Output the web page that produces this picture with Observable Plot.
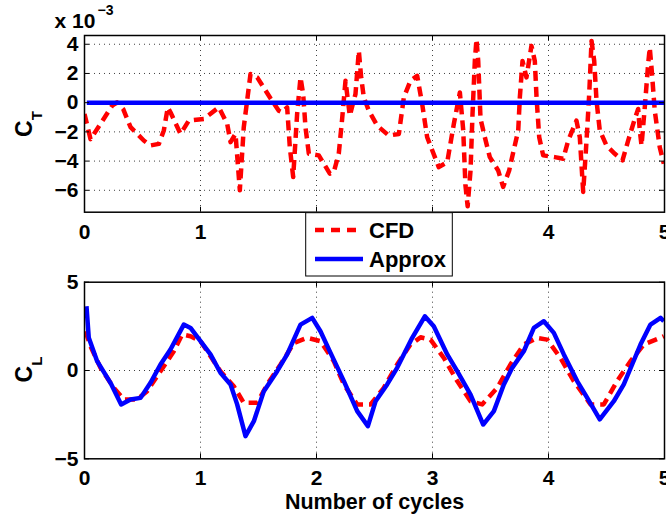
<!DOCTYPE html>
<html><head><meta charset="utf-8">
<script src="https://cdn.jsdelivr.net/npm/d3@7"></script>
<script src="https://cdn.jsdelivr.net/npm/@observablehq/plot@0.6"></script>
<style>
body{margin:0;background:#fff;}
#wrap{position:relative;width:666px;height:519px;overflow:hidden;background:#fff;}
#wrap svg{position:absolute;left:0;}
</style></head><body><div id="wrap"></div>
<script>
// ---- data ----
const xTicks = [0, 1, 2, 3, 4, 5];
const ctYTicks = [-6, -4, -2, 0, 2, 4];
const clYTicks = [-5, 0, 5];
const seriesNames = ["CFD", "Approx"];

// Thrust coefficient (x 10^-3), CFD
const ctCfdT = [0,0.052,0.138,0.239,0.28,0.333,0.397,0.511,0.569,0.641,0.684,0.718,0.741,0.828,0.899,1.029,1.158,1.23,1.259,1.302,1.339,1.373,1.431,1.489,1.603,1.675,1.704,1.747,1.77,1.799,1.833,1.862,1.885,1.905,1.934,2.02,2.115,2.149,2.192,2.221,2.25,2.287,2.336,2.365,2.385,2.408,2.451,2.523,2.623,2.71,2.753,2.81,2.868,2.911,2.954,3.054,3.127,3.184,3.236,3.265,3.284,3.303,3.328,3.345,3.365,3.379,3.394,3.414,3.451,3.494,3.566,3.609,3.661,3.696,3.739,3.753,3.776,3.81,3.853,3.882,3.897,3.92,3.954,4.054,4.127,4.17,4.241,4.27,4.299,4.328,4.351,4.371,4.394,4.414,4.442,4.5,4.572,4.638,4.687,4.744,4.773,4.787,4.802,4.83,4.859,4.873,4.888,4.916,4.959,4.994];
const ctCfd = [-0.77,-2.5,-1.45,-0.2,0.02,-0.43,-1.68,-2.59,-2.93,-2.82,-1.9,-0.32,-0.66,-2.14,-1.23,-1.11,-0.32,-1.45,-2.7,-2.14,-6.0,-1.68,1.96,1.73,0.3,-0.55,-0.66,-0.32,-3.05,-5.09,-0.77,1.73,0.59,-1.68,-3.5,-3.61,-4.86,-4.75,-3.5,-1.11,1.5,-0.89,0.59,3.55,1.73,0.36,-0.55,-1.57,-2.25,-2.14,0.36,1.5,1.84,-0.09,-2.37,-4.41,-4.07,-1.45,0.7,-1.9,-5.66,-7.1,-4.64,-0.77,2.86,4.34,2.86,-1.11,-2.36,-3.73,-4.64,-5.77,-4.64,-3.39,-1.9,0.36,2.86,1.73,3.89,2.86,0.36,-2.37,-3.61,-3.73,-3.84,-2.59,-1.23,-2.37,-6.11,-2.59,0.59,4.23,2.86,0.14,-1.9,-2.93,-3.5,-3.95,-2.59,-1.11,-0.43,-1.9,-2.93,-0.32,2.64,3.77,2.4,-0.55,-3.05,-4.18];
// Thrust coefficient, Approx
const ctApproxT = [0.02, 5];
const ctApprox = [0, 0];

// Lift coefficient, CFD
const clCfdT = [0.009,0.05,0.138,0.253,0.339,0.454,0.54,0.655,0.77,0.842,0.914,1.0,1.172,1.287,1.373,1.489,1.575,1.69,1.805,1.92,2.034,2.149,2.236,2.351,2.466,2.58,2.695,2.81,2.897,2.983,3.098,3.213,3.328,3.428,3.558,3.672,3.787,3.902,3.989,4.103,4.218,4.362,4.477,4.592,4.707,4.822,4.994];
const clCfd = [2.22,1.4,0.15,-0.98,-1.64,-1.64,-1.17,-0.04,1.09,2.04,1.94,1.66,-0.04,-0.89,-1.83,-1.83,-0.79,0.34,1.56,1.85,1.66,0.53,-0.79,-1.92,-1.92,-0.98,0.34,1.47,1.88,1.75,0.71,-0.6,-1.74,-1.92,-0.98,0.34,1.47,1.85,1.75,0.71,-0.6,-1.92,-1.92,-0.6,0.53,1.47,1.94];
// Lift coefficient, Approx
const clApproxT = [0.017,0.037,0.109,0.224,0.316,0.397,0.483,0.569,0.655,0.741,0.856,0.914,1.0,1.086,1.172,1.259,1.316,1.388,1.46,1.546,1.661,1.747,1.862,1.963,2.034,2.121,2.236,2.351,2.443,2.509,2.609,2.695,2.825,2.934,3.011,3.127,3.213,3.328,3.437,3.529,3.615,3.687,3.787,3.874,3.96,4.046,4.132,4.247,4.334,4.442,4.563,4.649,4.721,4.793,4.879,4.966,4.994];
const clApprox = [3.64,1.85,0.53,-0.7,-1.92,-1.64,-1.55,-0.7,0.34,1.19,2.6,2.41,1.66,0.91,-0.13,-0.79,-1.92,-3.72,-2.87,-1.17,-0.04,0.91,2.6,2.98,2.22,1.0,-0.6,-2.3,-3.15,-1.74,-0.79,0.15,1.85,3.07,2.51,0.91,-0.04,-1.36,-3.06,-2.3,-0.79,0.15,1.09,2.41,2.79,2.13,0.91,-0.6,-1.55,-2.77,-1.74,-0.79,0.34,1.47,2.6,2.98,2.79];

const RED = "#ff0000", BLUE = "#0000ff";
const FONT = "'Liberation Sans', Arial, Helvetica, sans-serif";
const zip = (t, v) => t.map((x, i) => ({t: x, v: v[i]}));

function panel({W, H, mt, mb, ml, mr, yDomain, yTicks, yGrid, xPad, series}) {
  const pw = W - ml - mr, ph = H - mt - mb;
  const grid = {stroke: "#000", strokeOpacity: 0.75, strokeDasharray: "1,4", strokeWidth: 1};
  return Plot.plot({
    width: W, height: H, marginTop: mt, marginBottom: mb, marginLeft: ml, marginRight: mr,
    style: {fontFamily: FONT, fontSize: "21px", fontWeight: "bold", background: "transparent", overflow: "visible", color: "#000"},
    x: {domain: [0, 5]},
    y: {domain: yDomain},
    marks: [
      Plot.gridX([1, 2, 3, 4], grid),
      Plot.gridY(yGrid, grid),
      ...series.map(s => Plot.line(s.data, {x: "t", y: "v", stroke: s.color, strokeWidth: 4.5,
        strokeDasharray: s.dash, strokeLinecap: "butt", strokeLinejoin: "round", clip: true})),
      Plot.tickX(xTicks, {x: d => d, insetTop: ph - 5, stroke: "#000", strokeWidth: 1}),
      Plot.tickX(xTicks, {x: d => d, insetBottom: ph - 5, stroke: "#000", strokeWidth: 1}),
      Plot.tickY(yTicks, {y: d => d, insetRight: pw - 5, stroke: "#000", strokeWidth: 1}),
      Plot.tickY(yTicks, {y: d => d, insetLeft: pw - 5, stroke: "#000", strokeWidth: 1}),
      Plot.frame({stroke: "#000", strokeWidth: 1.5}),
      Plot.axisX({ticks: xTicks, tickSize: 0, tickPadding: xPad, label: null, tickFormat: d => String(d)}),
      Plot.axisY({ticks: yTicks, tickSize: 0, tickPadding: 6, label: null})
    ]
  });
}

const wrap = document.getElementById("wrap");

const topSvg = panel({W: 666, H: 250, mt: 35, mb: 38.3, ml: 84, mr: 2,
  yDomain: [-7.5, 4.6], yTicks: ctYTicks, yGrid: ctYTicks, xPad: 12,
  series: [
    {data: zip(ctCfdT, ctCfd), color: RED, dash: "10,6"},
    {data: zip(ctApproxT, ctApprox), color: BLUE, dash: null}
  ]});
topSvg.style.top = "0px";
wrap.appendChild(topSvg);

const botSvg = panel({W: 666, H: 269, mt: 31.7, mb: 60.7, ml: 84, mr: 2,
  yDomain: [-5, 5], yTicks: clYTicks, yGrid: [0], xPad: 11,
  series: [
    {data: zip(clCfdT, clCfd), color: RED, dash: "10,6"},
    {data: zip(clApproxT, clApprox), color: BLUE, dash: null}
  ]});
botSvg.style.top = "250px";
wrap.appendChild(botSvg);

// axis labels
const st = d3.select(topSvg);
const ylab = st.append("text").attr("transform", "translate(32,124) rotate(-90)")
  .attr("text-anchor", "middle").style("font-size", "23px").style("font-family", FONT).style("font-weight", "bold");
ylab.append("tspan").text("C");
ylab.append("tspan").attr("dy", 10).style("font-size", "15px").text("T");
const expo = st.append("text").attr("x", 84).attr("y", 28).style("font-size", "21px").style("font-family", FONT).style("font-weight", "bold");
expo.append("tspan").text("x 10");
expo.append("tspan").attr("dx", 2).attr("dy", -13).style("font-size", "14px").text("\u22123");

const sb = d3.select(botSvg);
const ylab2 = sb.append("text").attr("transform", "translate(32,119.5) rotate(-90)")
  .attr("text-anchor", "middle").style("font-size", "23px").style("font-family", FONT).style("font-weight", "bold");
ylab2.append("tspan").text("C");
ylab2.append("tspan").attr("dy", 10).style("font-size", "15px").text("L");
sb.append("text").attr("x", 374.5).attr("y", 258.5).attr("text-anchor", "middle")
  .style("font-size", "21.5px").style("font-family", FONT).style("font-weight", "bold").text("Number of cycles");

// legend overlay
const leg = d3.select(wrap).append("svg").attr("width", 666).attr("height", 519).style("top", "0px");
leg.append("rect").attr("x", 305.7).attr("y", 212.7).attr("width", 146.6).attr("height", 63.3)
  .attr("fill", "#fff").attr("stroke", "#000").attr("stroke-width", 1);
const legItems = [{name: seriesNames[0], color: RED, dash: "9,7", y: 230}, {name: seriesNames[1], color: BLUE, dash: null, y: 259}];
legItems.forEach(d => {
  leg.append("line").attr("x1", 315).attr("x2", 363).attr("y1", d.y).attr("y2", d.y)
    .attr("stroke", d.color).attr("stroke-width", 4.5).attr("stroke-dasharray", d.dash);
  leg.append("text").attr("x", 369).attr("y", d.y + 7.5).style("font-size", "22px")
    .style("font-family", FONT).style("font-weight", "bold").text(d.name);
});
</script></body></html>
